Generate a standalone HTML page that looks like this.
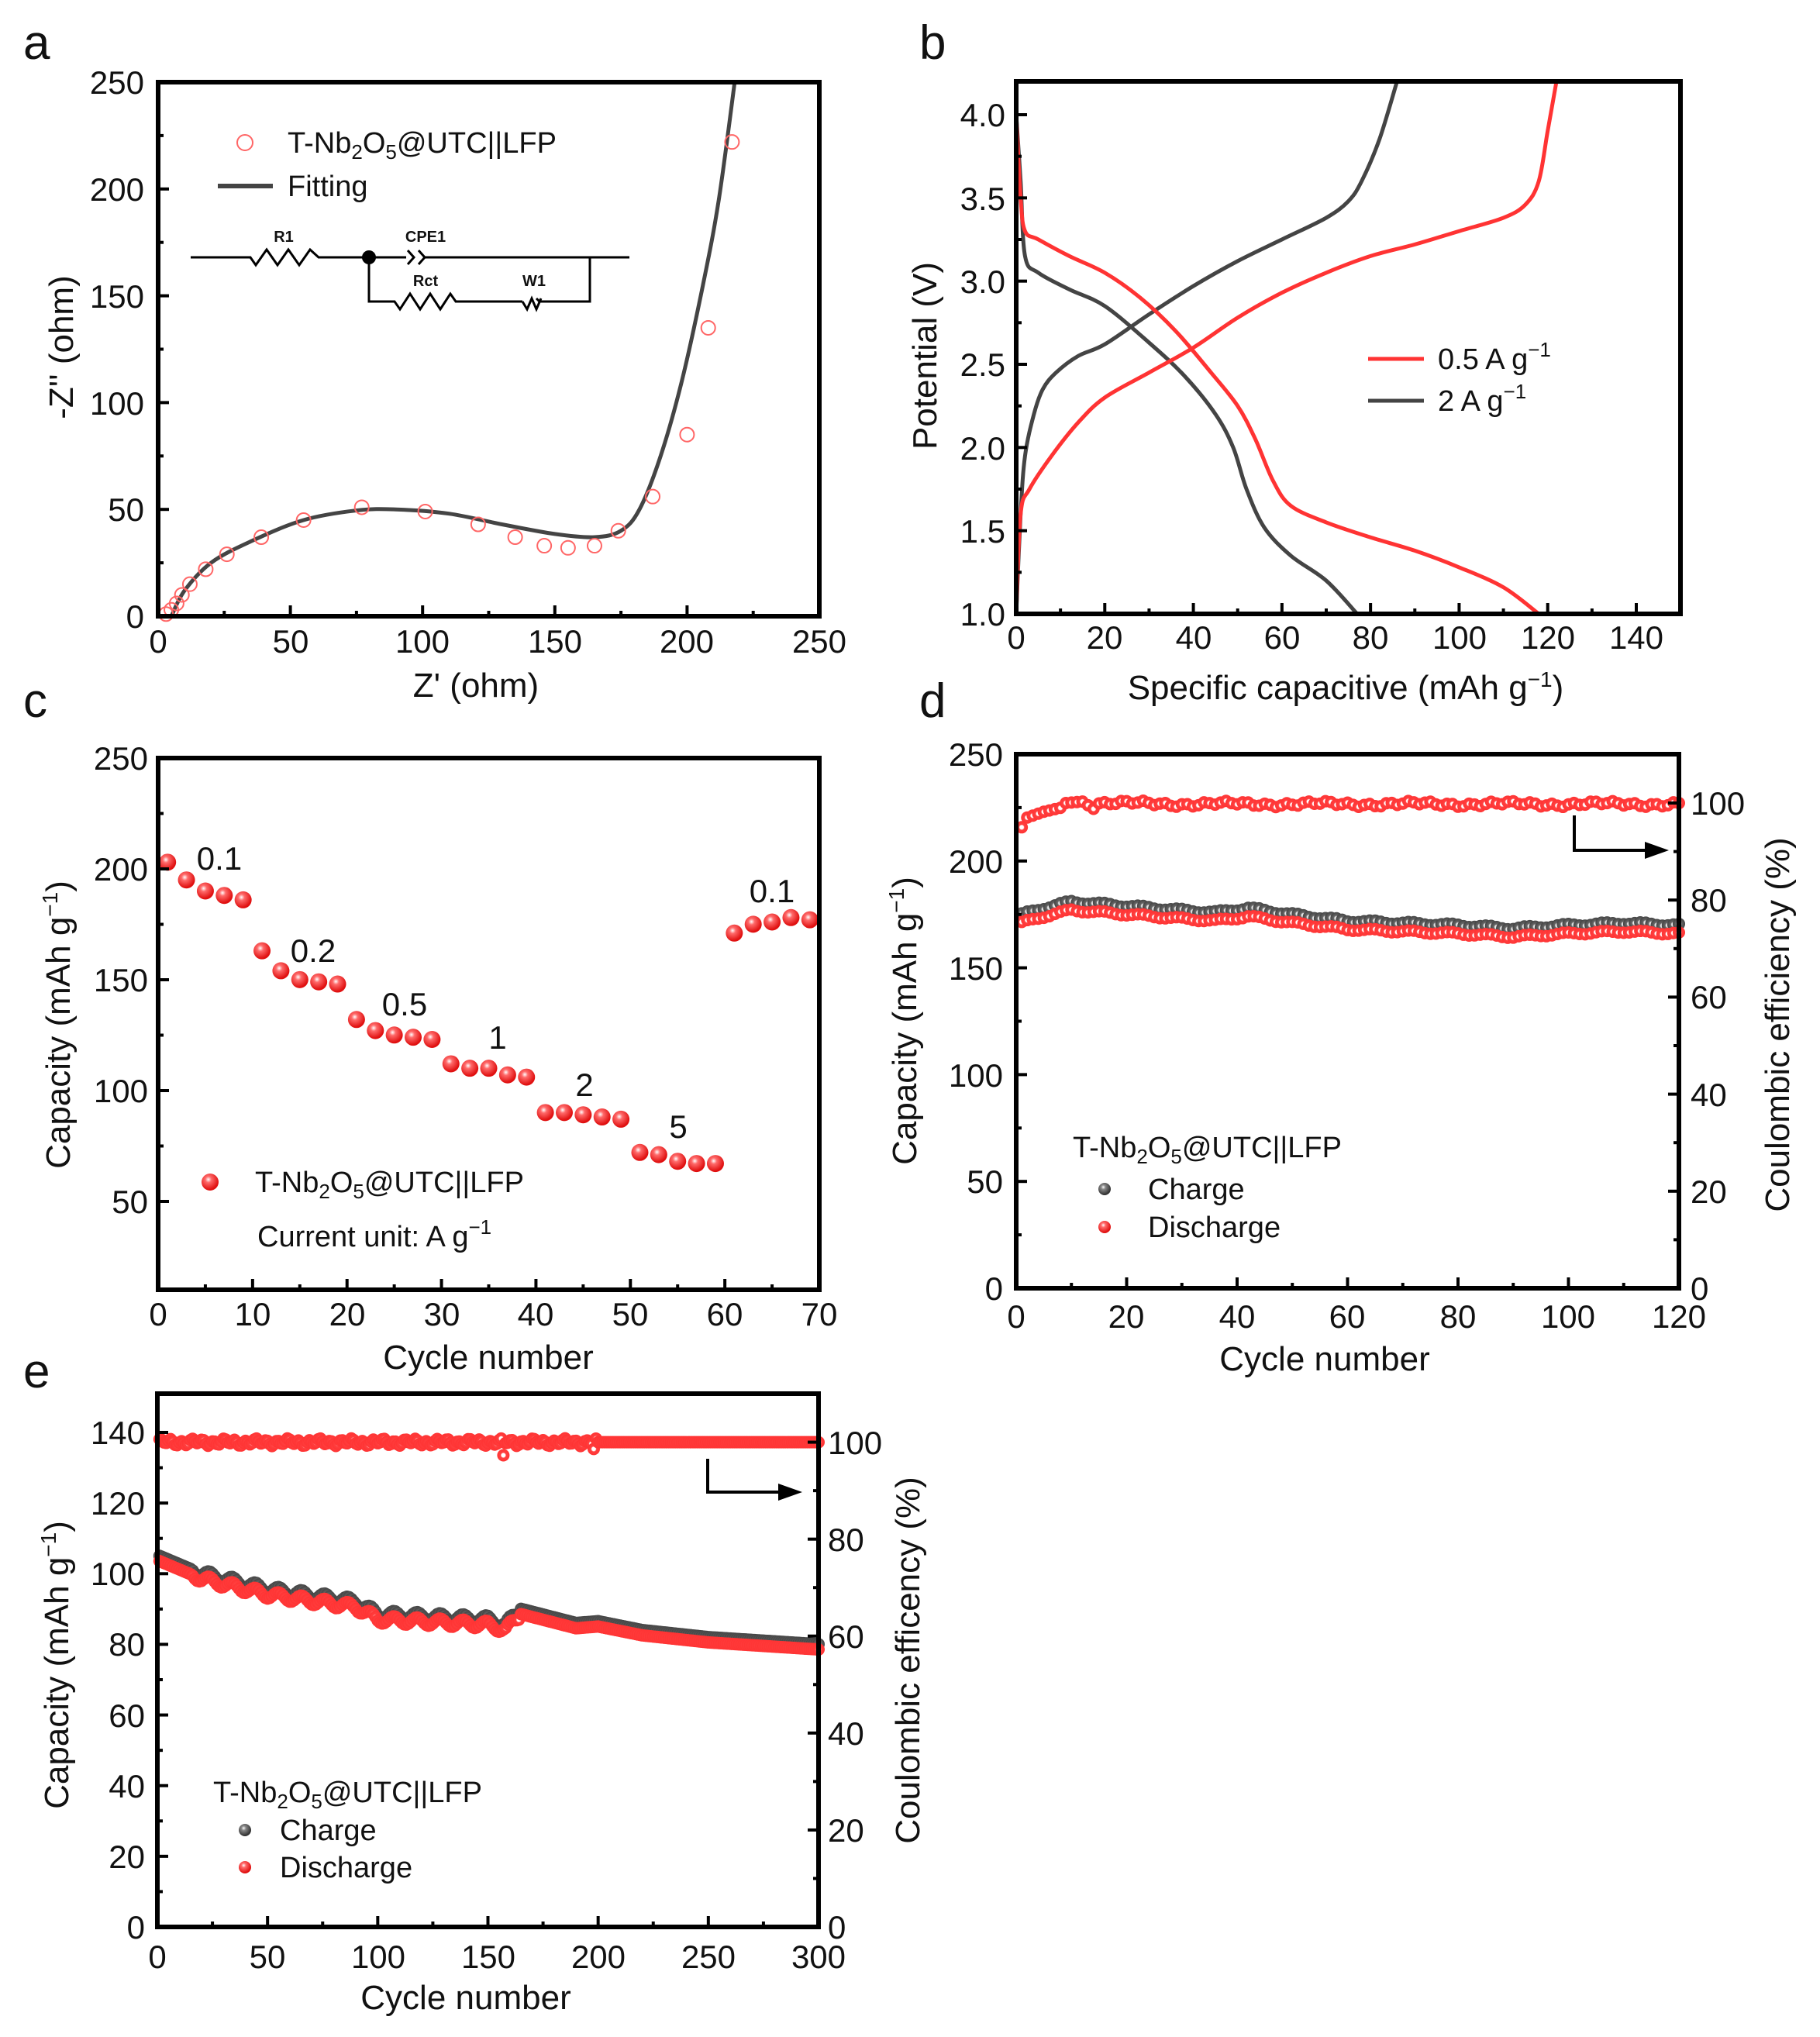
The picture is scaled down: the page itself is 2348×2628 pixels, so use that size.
<!DOCTYPE html>
<html><head><meta charset="utf-8"><style>
html,body{margin:0;padding:0;background:#fff;}
svg{display:block;}
text{font-family:"Liberation Sans",Arial,sans-serif;fill:#111;}
.t{font-size:42px;}
.tl{font-size:42px;text-anchor:end;}
.tm{font-size:42px;text-anchor:middle;}
.ts{font-size:42px;text-anchor:start;}
.at{font-size:44px;text-anchor:middle;}
.pl{font-size:62px;}
.lg{font-size:38px;}
.ck{font-size:20px;font-weight:bold;text-anchor:middle;}
</style></head><body>
<svg id="s" width="2348" height="2628" viewBox="0 0 2348 2628" xmlns="http://www.w3.org/2000/svg">
<defs>
<radialGradient id="rb" cx="0.4" cy="0.35" r="0.6"><stop offset="0" stop-color="#fff"/><stop offset="0.3" stop-color="#ff6a6a"/><stop offset="1" stop-color="#e01010"/></radialGradient>
<radialGradient id="gb" cx="0.4" cy="0.35" r="0.6"><stop offset="0" stop-color="#fff"/><stop offset="0.3" stop-color="#888"/><stop offset="1" stop-color="#333"/></radialGradient>
<radialGradient id="rs" cx="0.5" cy="0.5" r="0.5"><stop offset="0" stop-color="#fff"/><stop offset="0.3" stop-color="#fff"/><stop offset="0.45" stop-color="#ff4040"/><stop offset="1" stop-color="#f33"/></radialGradient>
<radialGradient id="gs" cx="0.5" cy="0.5" r="0.5"><stop offset="0" stop-color="#fff"/><stop offset="0.3" stop-color="#ddd"/><stop offset="0.45" stop-color="#666"/><stop offset="1" stop-color="#444"/></radialGradient>
</defs>
<g id="data"></g>
<g id="axes" fill="none" stroke="#000" stroke-width="6"></g>

<!-- panel letters -->
<text class="pl" x="30" y="76">a</text>
<text class="pl" x="1186" y="76">b</text>
<text class="pl" x="30" y="925">c</text>
<text class="pl" x="1186" y="925">d</text>
<text class="pl" x="30" y="1790">e</text>

<!-- panel a ticks -->
<g class="tm"><text x="204" y="842">0</text><text x="375" y="842">50</text><text x="545" y="842">100</text><text x="716" y="842">150</text><text x="886" y="842">200</text><text x="1057" y="842">250</text></g>
<g class="tl"><text x="186" y="810">0</text><text x="186" y="672">50</text><text x="186" y="535">100</text><text x="186" y="397">150</text><text x="186" y="259">200</text><text x="186" y="121">250</text></g>
<text class="at" x="614" y="899">Z' (ohm)</text>
<text class="at" transform="translate(94,448) rotate(-90)">-Z'' (ohm)</text>
<circle cx="316" cy="184" r="10" fill="none" stroke="#f66" stroke-width="2"/>
<text class="lg" x="371" y="197">T-Nb<tspan font-size="26" dy="8">2</tspan><tspan dy="-8">O</tspan><tspan font-size="26" dy="8">5</tspan><tspan dy="-8">@UTC||LFP</tspan></text>
<line x1="281" y1="240" x2="352" y2="240" stroke="#444" stroke-width="6"/>
<text class="lg" x="371" y="253">Fitting</text>
<!-- circuit -->
<g fill="none" stroke="#000" stroke-width="3">
<path d="M246 332 H323 l7 10 l14 -20 l14 20 l14 -20 l14 20 l14 -20 l11 10 H524"/>
<path d="M526 323 l8 9 l-8 9 M540 323 l8 9 l-8 9"/>
<path d="M548 332 H812"/>
<path d="M476 332 V389 H509 l7 10 l13 -20 l13 20 l13 -20 l13 20 l13 -20 l7 10 H674"/>
<path d="M674 389 l6 10 l6 -14 l6 14 l6 -14 M692 385 l4 4 H761 V332"/>
</g>
<circle cx="476" cy="332" r="9" fill="#000"/>
<text class="ck" x="366" y="312">R1</text>
<text class="ck" x="549" y="312">CPE1</text>
<text class="ck" x="549" y="369">Rct</text>
<text class="ck" x="689" y="369">W1</text>

<!-- panel b -->
<g class="tm"><text x="1311" y="837">0</text><text x="1425" y="837">20</text><text x="1540" y="837">40</text><text x="1654" y="837">60</text><text x="1768" y="837">80</text><text x="1883" y="837">100</text><text x="1997" y="837">120</text><text x="2111" y="837">140</text></g>
<g class="tl"><text x="1297" y="807">1.0</text><text x="1297" y="700">1.5</text><text x="1297" y="593">2.0</text><text x="1297" y="485">2.5</text><text x="1297" y="378">3.0</text><text x="1297" y="271">3.5</text><text x="1297" y="163">4.0</text></g>
<text class="at" x="1736" y="902">Specific capacitive (mAh g<tspan font-size="28" dy="-16">−1</tspan><tspan dy="16">)</tspan></text>
<text class="at" transform="translate(1208,459) rotate(-90)">Potential (V)</text>
<line x1="1765" y1="463" x2="1837" y2="463" stroke="#f33" stroke-width="5"/>
<text class="lg" x="1855" y="476">0.5 A g<tspan font-size="26" dy="-16">−1</tspan></text>
<line x1="1765" y1="517" x2="1837" y2="517" stroke="#444" stroke-width="5"/>
<text class="lg" x="1855" y="530">2 A g<tspan font-size="26" dy="-16">−1</tspan></text>

<!-- panel c -->
<g class="tm"><text x="204" y="1710">0</text><text x="326" y="1710">10</text><text x="448" y="1710">20</text><text x="570" y="1710">30</text><text x="691" y="1710">40</text><text x="813" y="1710">50</text><text x="935" y="1710">60</text><text x="1057" y="1710">70</text></g>
<g class="tl"><text x="191" y="1565">50</text><text x="191" y="1422">100</text><text x="191" y="1279">150</text><text x="191" y="1136">200</text><text x="191" y="993">250</text></g>
<text class="at" x="630" y="1766">Cycle number</text>
<text class="at" transform="translate(90,1322) rotate(-90)">Capacity (mAh g<tspan font-size="28" dy="-16">−1</tspan><tspan dy="16">)</tspan></text>
<g class="tm"><text x="283" y="1122">0.1</text><text x="404" y="1241">0.2</text><text x="522" y="1310">0.5</text><text x="642" y="1353">1</text><text x="754" y="1414">2</text><text x="875" y="1468">5</text><text x="996" y="1164">0.1</text></g>
<circle cx="271" cy="1525" r="11" fill="url(#rb)"/>
<text class="lg" x="329" y="1538">T-Nb<tspan font-size="26" dy="8">2</tspan><tspan dy="-8">O</tspan><tspan font-size="26" dy="8">5</tspan><tspan dy="-8">@UTC||LFP</tspan></text>
<text class="lg" x="332" y="1608">Current unit: A g<tspan font-size="26" dy="-16">−1</tspan></text>

<!-- panel d -->
<g class="tm"><text x="1311" y="1713">0</text><text x="1453" y="1713">20</text><text x="1596" y="1713">40</text><text x="1738" y="1713">60</text><text x="1881" y="1713">80</text><text x="2023" y="1713">100</text><text x="2166" y="1713">120</text></g>
<g class="tl"><text x="1294" y="1677">0</text><text x="1294" y="1539">50</text><text x="1294" y="1402">100</text><text x="1294" y="1264">150</text><text x="1294" y="1126">200</text><text x="1294" y="988">250</text></g>
<g class="ts"><text x="2181" y="1677">0</text><text x="2181" y="1552">20</text><text x="2181" y="1427">40</text><text x="2181" y="1301">60</text><text x="2181" y="1176">80</text><text x="2181" y="1051">100</text></g>
<text class="at" x="1709" y="1768">Cycle number</text>
<text class="at" transform="translate(1182,1317) rotate(-90)">Capacity (mAh g<tspan font-size="28" dy="-16">−1</tspan><tspan dy="16">)</tspan></text>
<text class="at" transform="translate(2308,1322) rotate(-90)">Coulombic efficiency (%)</text>
<text class="lg" x="1384" y="1493">T-Nb<tspan font-size="26" dy="8">2</tspan><tspan dy="-8">O</tspan><tspan font-size="26" dy="8">5</tspan><tspan dy="-8">@UTC||LFP</tspan></text>
<circle cx="1425" cy="1534" r="8" fill="url(#gb)"/>
<text class="lg" x="1481" y="1547">Charge</text>
<circle cx="1425" cy="1583" r="8" fill="url(#rb)"/>
<text class="lg" x="1481" y="1596">Discharge</text>
<path d="M2031 1052 V1097 H2128" fill="none" stroke="#000" stroke-width="4"/>
<path d="M2153 1097 L2122 1086 L2122 1108 Z" fill="#000"/>

<!-- panel e -->
<g class="tm"><text x="203" y="2539">0</text><text x="345" y="2539">50</text><text x="488" y="2539">100</text><text x="630" y="2539">150</text><text x="772" y="2539">200</text><text x="914" y="2539">250</text><text x="1056" y="2539">300</text></g>
<g class="tl"><text x="187" y="2501">0</text><text x="187" y="2410">20</text><text x="187" y="2319">40</text><text x="187" y="2228">60</text><text x="187" y="2136">80</text><text x="187" y="2045">100</text><text x="187" y="1954">120</text><text x="187" y="1863">140</text></g>
<g class="ts"><text x="1068" y="2501">0</text><text x="1068" y="2376">20</text><text x="1068" y="2251">40</text><text x="1068" y="2126">60</text><text x="1068" y="2001">80</text><text x="1068" y="1876">100</text></g>
<text class="at" x="601" y="2592">Cycle number</text>
<text class="at" transform="translate(88,2148) rotate(-90)">Capacity (mAh g<tspan font-size="28" dy="-16">−1</tspan><tspan dy="16">)</tspan></text>
<text class="at" transform="translate(1186,2142) rotate(-90)">Coulombic efficency (%)</text>
<text class="lg" x="275" y="2325">T-Nb<tspan font-size="26" dy="8">2</tspan><tspan dy="-8">O</tspan><tspan font-size="26" dy="8">5</tspan><tspan dy="-8">@UTC||LFP</tspan></text>
<circle cx="316" cy="2361" r="8" fill="url(#gb)"/>
<text class="lg" x="361" y="2374">Charge</text>
<circle cx="316" cy="2409" r="8" fill="url(#rb)"/>
<text class="lg" x="361" y="2422">Discharge</text>
<path d="M913 1882 V1925 H1010" fill="none" stroke="#000" stroke-width="4"/>
<path d="M1035 1925 L1004 1914 L1004 1936 Z" fill="#000"/>
</svg>
<script>
var NS="http://www.w3.org/2000/svg";
var D=document.getElementById("data"),A=document.getElementById("axes");
function el(p,n,at){var e=document.createElementNS(NS,n);for(var k in at)e.setAttribute(k,at[k]);p.appendChild(e);return e;}
function lin(v0,v1,p0,p1){return function(v){return p0+(v-v0)/(v1-v0)*(p1-p0);};}
function interp(pts,x){for(var i=0;i<pts.length-1;i++){if(x<=pts[i+1][0]){var t=(x-pts[i][0])/(pts[i+1][0]-pts[i][0]);return pts[i][1]+t*(pts[i+1][1]-pts[i][1]);}}return pts[pts.length-1][1];}
function cr(P){var d="M"+P[0][0]+" "+P[0][1];for(var i=0;i<P.length-1;i++){var p0=P[i-1]||P[i],p1=P[i],p2=P[i+1],p3=P[i+2]||p2;
d+=" C"+(p1[0]+(p2[0]-p0[0])/6)+" "+(p1[1]+(p2[1]-p0[1])/6)+" "+(p2[0]-(p3[0]-p1[0])/6)+" "+(p2[1]-(p3[1]-p1[1])/6)+" "+p2[0]+" "+p2[1];}return d;}
function box(x0,y0,x1,y1){el(A,"rect",{x:x0,y:y0,width:x1-x0,height:y1-y0});}
function ticksX(x0,x1,n,y,minor){var g=el(A,"g",{"stroke-width":4});for(var i=0;i<=n*2;i++){var x=x0+(x1-x0)*i/(2*n);var L=i%2?7:14;if(i%2&&!minor)continue;el(g,"line",{x1:x,y1:y,x2:x,y2:y-L});}}
function ticksY(y0,y1,n,x,dir){var g=el(A,"g",{"stroke-width":4});for(var i=0;i<=n*2;i++){var y=y0+(y1-y0)*i/(2*n);var L=i%2?7:14;el(g,"line",{x1:x,y1:y,x2:x+dir*L,y2:y});}}

/* panel a */
(function(){var X=lin(0,250,204,1057),Y=lin(0,250,795,106);
var c=[[3,1],[5,3],[7,6],[9,10],[12,15],[18,22],[26,29],[39,37],[55,45],[77,51],[101,49],[121,43],[135,37],[146,33],[155,32],[165,33],[174,40],[187,56],[200,85],[208,135],[217,222]];
var f=[[5,0],[10,12],[20,25],[35,35],[55,45],[75,49.5],[90,50],[110,48],[130,43],[150,38.5],[165,37],[175,40],[182,50],[190,75],[198,110],[206,155],[212,195],[218,250]];
el(D,"path",{d:cr(f.map(function(p){return[X(p[0]),Y(p[1])]})),fill:"none",stroke:"#444","stroke-width":5});
c.forEach(function(p){el(D,"circle",{cx:X(p[0]),cy:Y(p[1]),r:9,fill:"none",stroke:"#f66","stroke-width":2});});
box(204,106,1057,795);ticksX(204,1057,5,795,true);ticksY(795,106,5,204,1);})();

/* panel b */
(function(){var X=lin(0,150,1311,2168),Y=lin(1,4.2,792,105);
var rc=[[0,1.0],[1,1.6],[3,1.75],[8,1.95],[14,2.15],[20,2.3],[30,2.45],[40,2.6],[50,2.78],[60,2.93],[70,3.05],[80,3.15],[90,3.22],[100,3.3],[110,3.38],[115,3.46],[118,3.6],[120,3.9],[122,4.2]];
var rd=[[0,4.0],[1,3.5],[2,3.3],[5,3.25],[12,3.15],[20,3.05],[28,2.9],[36,2.7],[44,2.45],[50,2.25],[54,2.05],[58,1.8],[62,1.65],[70,1.55],[80,1.46],[90,1.38],[100,1.28],[110,1.16],[118,1.0]];
var gc=[[0,1.0],[1,1.6],[2,1.95],[4,2.2],[6,2.35],[9,2.45],[14,2.55],[20,2.62],[30,2.8],[40,2.97],[50,3.12],[60,3.25],[70,3.38],[75,3.48],[78,3.6],[82,3.85],[86,4.2]];
var gd=[[0,4.0],[1,3.6],[2,3.15],[5,3.05],[12,2.95],[20,2.85],[30,2.63],[38,2.43],[45,2.2],[49,2.0],[52,1.75],[56,1.52],[62,1.35],[70,1.2],[77,1.0]];
[[gc,"#444"],[gd,"#444"],[rc,"#f33"],[rd,"#f33"]].forEach(function(s){el(D,"path",{d:cr(s[0].map(function(p){return[X(p[0]),Y(p[1])]})),fill:"none",stroke:s[1],"stroke-width":5});});
box(1311,105,2168,792);ticksX(1311,2111,7,792,true);ticksY(792,148,6,1311,1);})();

/* panel c */
(function(){var X=lin(0,70,204,1057),Y=lin(10,250,1664,978);
var v=[203,195,190,188,186,163,154,150,149,148,132,127,125,124,123,112,110,110,107,106,90,90,89,88,87,72,71,68,67,67,171,175,176,178,177];
v.forEach(function(c,i){el(D,"circle",{cx:X(1+2*i),cy:Y(c),r:11,fill:"url(#rb)"});});
box(204,978,1057,1664);ticksX(204,1057,7,1664,true);ticksY(1550,978,4,204,1);})();

/* panel d */
(function(){var X=lin(0,120,1311,2166),Y=lin(0,250,1662,973),Y2=lin(0,100,1662,1036);
var ch=[[1,175],[5,178],[10,181],[20,179],[30,177],[36,176],[42,178],[50,175],[60,172],[70,171],[80,170],[90,168.5],[100,170],[110,171],[120,170]];
var ce=[[1,95],[2,97],[5,98.2],[8,99],[9,100],[12,100.3],[14,98.8],[15,100],[30,99.8],[120,99.8]];
for(var c=1;c<=120;c++){var w=Math.sin(c*0.9)*0.6;el(D,"circle",{cx:X(c),cy:Y(interp(ch,c)+w),r:8,fill:"url(#gs)"});}
for(var c=1;c<=120;c++){var w=Math.sin(c*0.9)*0.6;el(D,"circle",{cx:X(c),cy:Y(interp(ch,c)-4+w),r:8,fill:"url(#rs)"});}
for(var c=1;c<=120;c++){var w=(c>14)?Math.sin(c*1.7)*0.35+Math.sin(c*0.37)*0.3:0;el(D,"circle",{cx:X(c),cy:Y2(interp(ce,c)+w),r:8,fill:"url(#rs)"});}
box(1311,973,2166,1662);ticksX(1311,2166,6,1662,true);ticksY(1662,973,5,1311,1);ticksY(1662,1036,5,2166,-1);})();

/* panel e */
(function(){var X=lin(0,300,203,1056),Y=lin(0,150,2486,1802),Y2=lin(0,100,2486,1860.6);
var ch=[[1,105],[20,100],[50,95.5],[90,92],[100,88.5],[150,87],[158,85.5],[165,90],[190,86],[200,86.5],[220,84],[250,82],[300,80]];
function wig(c){return (c>15&&c<165)?Math.sin(c*0.6)*1.1:0;}
for(var c=1;c<=300;c++)el(D,"circle",{cx:X(c),cy:Y(interp(ch,c)+wig(c)),r:8,fill:"url(#gs)"});
for(var c=1;c<=300;c++)el(D,"circle",{cx:X(c),cy:Y(interp(ch,c)-1.5+wig(c)),r:8,fill:"url(#rs)"});
for(var c=1;c<=300;c++){var v=100;if(c<200)v+=Math.sin(c*1.3)*0.5+Math.sin(c*0.45)*0.3;if(c==157)v=97.3;if(c==198)v=98.6;el(D,"circle",{cx:X(c),cy:Y2(v),r:8,fill:"url(#rs)"});}
box(203,1798,1056,2486);ticksX(203,1056,6,2486,true);ticksY(2486,1848,7,203,1);ticksY(2486,1860.6,5,1056,-1);})();
</script>
</body></html>
